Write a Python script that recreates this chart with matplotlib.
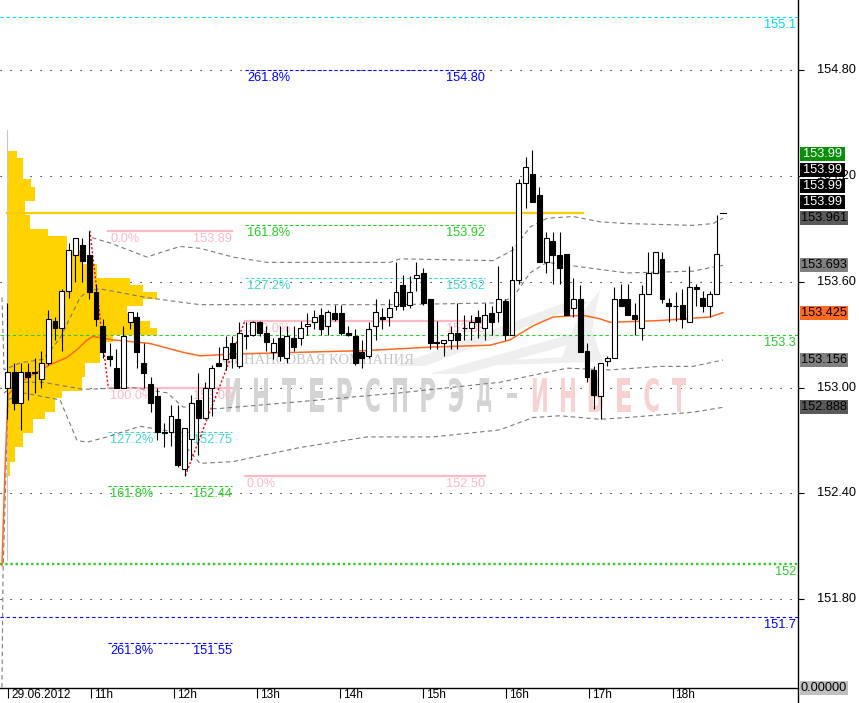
import matplotlib
matplotlib.use("Agg")
import matplotlib.pyplot as plt
import matplotlib.patches as patches
import matplotlib.transforms as mtransforms
from matplotlib.textpath import TextPath
from matplotlib.font_manager import FontProperties

plt.rcParams["font.family"] = ["Liberation Sans", "DejaVu Sans"]

W, H = 859, 703          # output size, px
AX_RIGHT, AX_BOTTOM = 798, 688
FS = 8.6

# ---------------- data (5 min candles, 29.06.2012) ----------------
opens = [153.00, 153.09, 152.91, 153.09, 153.09, 153.05, 153.14, 153.38, 153.34, 153.55,
         153.75, 153.81, 153.75, 153.54, 153.35, 153.18, 153.11, 153.00, 153.37, 153.40,
         153.14, 153.02, 152.95, 152.75, 152.75, 152.82, 152.54, 152.71, 152.93, 152.83,
         153.00, 153.14, 153.16, 153.25, 153.12, 153.30, 153.30, 153.37, 153.31, 153.20,
         153.28, 153.17, 153.28, 153.28, 153.35, 153.37, 153.41, 153.35, 153.42, 153.42,
         153.31, 153.29, 153.20, 153.18, 153.35, 153.40, 153.40, 153.46, 153.58, 153.47,
         153.62, 153.65, 153.50, 153.26, 153.25, 153.27, 153.31, 153.34, 153.34, 153.40,
         153.34, 153.42, 153.43, 153.49, 153.30, 153.61, 154.16, 154.21, 154.09, 153.71,
         153.83, 153.75, 153.76, 153.45, 153.50, 153.21, 153.10, 152.95, 153.15, 153.17,
         153.50, 153.50, 153.41, 153.34, 153.53, 153.65, 153.73, 153.48, 153.46, 153.47,
         153.37, 153.57, 153.51, 153.46, 153.53]
highs = [153.48, 153.14, 153.14, 153.14, 153.17, 153.21, 153.44, 153.40, 153.56, 153.82,
         153.85, 153.85, 153.89, 153.59, 153.39, 153.25, 153.22, 153.35, 153.43, 153.43,
         153.25, 153.06, 153.00, 152.80, 152.90, 152.90, 152.77, 152.96, 153.08, 153.03,
         153.13, 153.23, 153.29, 153.29, 153.37, 153.37, 153.38, 153.38, 153.35, 153.28,
         153.35, 153.35, 153.35, 153.38, 153.42, 153.44, 153.45, 153.44, 153.47, 153.47,
         153.35, 153.33, 153.27, 153.37, 153.50, 153.45, 153.50, 153.71, 153.64, 153.63,
         153.71, 153.68, 153.50, 153.38, 153.27, 153.35, 153.48, 153.41, 153.41, 153.44,
         153.48, 153.46, 153.69, 153.50, 153.80, 154.18, 154.31, 154.35, 154.14, 153.88,
         153.88, 153.88, 153.76, 153.62, 153.58, 153.25, 153.12, 153.14, 153.18, 153.57,
         153.59, 153.59, 153.48, 153.58, 153.77, 153.77, 153.77, 153.51, 153.54, 153.56,
         153.69, 153.59, 153.55, 153.55, 153.98]
lows = [152.82, 152.87, 152.76, 152.93, 152.97, 153.00, 153.13, 153.27, 153.21, 153.51,
        153.60, 153.60, 153.50, 153.35, 153.17, 153.12, 153.00, 153.00, 153.33, 153.11,
        153.00, 152.86, 152.70, 152.66, 152.67, 152.55, 152.50, 152.59, 152.62, 152.82,
        152.84, 153.12, 153.10, 153.11, 153.11, 153.22, 153.29, 153.29, 153.21, 153.16,
        153.15, 153.14, 153.21, 153.24, 153.30, 153.33, 153.30, 153.30, 153.38, 153.30,
        153.29, 153.13, 153.11, 153.17, 153.27, 153.33, 153.35, 153.44, 153.44, 153.45,
        153.55, 153.47, 153.22, 153.22, 153.18, 153.22, 153.22, 153.27, 153.27, 153.28,
        153.27, 153.30, 153.37, 153.27, 153.30, 153.59, 154.02, 154.05, 153.71, 153.65,
        153.59, 153.59, 153.41, 153.40, 153.20, 153.03, 152.88, 152.82, 153.12, 153.17,
        153.46, 153.41, 153.30, 153.27, 153.53, 153.65, 153.48, 153.37, 153.38, 153.34,
        153.37, 153.46, 153.43, 153.40, 153.53]
closes = [153.09, 152.91, 153.09, 153.06, 153.08, 153.14, 153.39, 153.34, 153.55, 153.78,
          153.85, 153.72, 153.54, 153.39, 153.20, 153.16, 153.00, 153.29, 153.43, 153.20,
          153.08, 152.91, 152.75, 152.74, 152.84, 152.56, 152.77, 152.91, 152.83, 153.00,
          153.11, 153.12, 153.23, 153.17, 153.31, 153.29, 153.37, 153.31, 153.26, 153.25,
          153.18, 153.29, 153.23, 153.34, 153.36, 153.40, 153.33, 153.43, 153.39, 153.31,
          153.30, 153.14, 153.17, 153.33, 153.43, 153.39, 153.45, 153.54, 153.46, 153.54,
          153.64, 153.48, 153.25, 153.25, 153.27, 153.31, 153.27, 153.34, 153.37, 153.37,
          153.41, 153.37, 153.50, 153.30, 153.61, 154.16, 154.25, 154.05, 153.71, 153.85,
          153.75, 153.68, 153.41, 153.50, 153.20, 153.06, 152.96, 153.14, 153.17, 153.50,
          153.46, 153.41, 153.39, 153.53, 153.65, 153.77, 153.50, 153.46, 153.46, 153.39,
          153.57, 153.56, 153.46, 153.53, 153.76]

time_labels = ["29.06.2012", "11h", "12h", "13h", "14h", "15h", "16h", "17h", "18h"]

# VWAP and its deviation bands (bar index, price)
vwap_x = [-0.78, -0.34, 0.10, 1.86, 6.26, 8.75, 10.37, 11.69, 12.57, 15.50, 20.92, 25.76, 28.25,
          33.09, 42.92, 52.74, 62.42, 70.78, 73.71, 77.08, 80.02, 84.42, 86.91, 88.37, 95.70,
          103.03, 104.94]
vwap_y = [151.99, 152.53, 152.96, 153.03, 153.13, 153.17, 153.22, 153.27, 153.29, 153.27, 153.25,
          153.20, 153.18, 153.19, 153.20, 153.21, 153.23, 153.24, 153.27, 153.35, 153.40, 153.41,
          153.39, 153.37, 153.38, 153.40, 153.425]
upper2_x = [12.42, 15.06, 20.48, 22.83, 25.32, 28.25, 33.09, 38.08, 56.11, 57.58, 71.22, 74.15,
            76.64, 79.14, 82.95, 86.91, 90.87, 100.54, 103.48, 104.94]
upper2_y = [153.85, 153.82, 153.74, 153.77, 153.80, 153.79, 153.74, 153.71, 153.71, 153.73,
            153.72, 153.78, 153.91, 153.96, 153.97, 153.94, 153.93, 153.92, 153.93, 153.961]
upper1_x = [-0.78, -0.48, 1.86, 5.23, 7.73, 10.66, 11.83, 13.59, 20.48, 28.25, 56.55, 71.80,
            74.15, 76.64, 79.14, 86.91, 90.87, 100.54, 103.03, 104.94]
upper1_y = [153.51, 153.10, 153.14, 153.16, 153.28, 153.51, 153.55, 153.56, 153.51, 153.47,
            153.47, 153.48, 153.51, 153.65, 153.71, 153.67, 153.65, 153.66, 153.68, 153.693]
lower1_x = [-0.48, 1.86, 5.23, 11.10, 18.43, 23.42, 25.76, 30.75, 42.92, 57.58, 64.91, 72.24,
            77.08, 82.07, 88.37, 95.70, 100.54, 104.94]
lower1_y = [152.97, 153.03, 153.03, 152.99, 153.00, 152.97, 152.89, 152.88, 152.92, 152.97,
            153.00, 153.03, 153.07, 153.11, 153.10, 153.12, 153.12, 153.156]
lower2_x = [-0.78, -0.63, 0.10, 2.30, 7.73, 10.22, 11.69, 14.62, 19.46, 24.30, 28.25, 33.09,
            42.92, 52.74, 62.42, 72.24, 77.08, 81.04, 86.91, 90.87, 100.54, 104.94]
lower2_y = [151.30, 151.94, 152.93, 152.97, 152.93, 152.70, 152.69, 152.72, 152.78, 152.75,
            152.57, 152.58, 152.66, 152.72, 152.72, 152.76, 152.83, 152.84, 152.82, 152.83,
            152.86, 152.888]

# volume profile of the previous session
profile_price = [154.32, 154.28, 154.24, 154.20, 154.16, 154.12, 154.08, 154.04, 154.00, 153.96,
                 153.92, 153.88, 153.84, 153.80, 153.76, 153.72, 153.68, 153.64, 153.60, 153.56,
                 153.52, 153.48, 153.44, 153.40, 153.36, 153.32, 153.28, 153.24, 153.20, 153.16,
                 153.12, 153.08, 153.04, 153.00, 152.96, 152.92, 152.88, 152.84, 152.80, 152.76,
                 152.72, 152.68, 152.64, 152.60, 152.56, 152.52]
profile_volume = [10, 16, 16, 16, 24, 28, 28, 18, 18, 23, 23, 41, 60, 60, 75, 75, 90, 90, 123, 136,
                  150, 136, 120, 126, 143, 150, 106, 93, 93, 93, 78, 78, 75, 75, 55, 48, 48, 38,
                  26, 26, 16, 16, 8, 8, 3, 3]

# fibonacci sets: (label, price)
fib1_names = ["0.0%", "100.0%", "127.2%", "161.8%", "261.8%"]
fib1_values = [153.89, 153.00, 152.75, 152.44, 151.55]
fib1_anchor_x = [12.1, 14.8]
fib1_anchor_y = [153.89, 153.00]
fib2_names = ["100.0%", "0.0%", "127.2%", "161.8%", "261.8%"]
fib2_values = [153.38, 152.50, 153.62, 153.92, 154.80]
fib2_anchor_x = [26.1, 34.85]
fib2_anchor_y = [152.50, 153.38]

level_prices = [155.1, 153.3, 152.0, 151.7]
level_labels = ["155.1", "153.3", "152", "151.7"]
yellow_level = 153.99

tick_prices = [154.80, 154.20, 153.60, 153.00, 152.40, 151.80]
stack_values = [153.99, 153.99, 153.99, 153.99]
marker_values = [153.961, 153.693, 153.425, 153.156, 152.888]

# ---------------- figure ----------------
fig = plt.figure(figsize=(W / 100, H / 100), dpi=100, facecolor="white")
ax = fig.add_axes([0, (H - AX_BOTTOM) / H, AX_RIGHT / W, AX_BOTTOM / H])
ax.set_xlim(-1.07, 115.94)
ax.set_ylim(151.296, 155.198)
PXX = 6.82  # px per bar
for s in ("top", "left"):
    ax.spines[s].set_visible(False)
ax.spines["bottom"].set_linewidth(1.0)
ax.spines["right"].set_visible(False)
fig.add_artist(plt.Line2D([AX_RIGHT / W] * 2, [0, 1], transform=fig.transFigure,
                          color="black", lw=1.0))

# grid
for p in tick_prices:
    ax.axhline(p, color="black", lw=0.8, ls=(0, (1, 8)), zorder=0.5)

# y ticks on the right
ax.yaxis.tick_right()
ax.set_yticks(tick_prices)
ax.tick_params(axis="y", length=4.3, width=0.8, direction="out", labelright=False, labelleft=False)
hour_ticks = [0.1 + 12.18 * k for k in range(len(time_labels))]
ax.set_xticks(hour_ticks)
ax.tick_params(axis="x", length=7, width=0.8, direction="out", labelbottom=False)
xlab_tr = mtransforms.offset_copy(
    mtransforms.blended_transform_factory(ax.transData, ax.transAxes), fig=fig, x=3, y=-7, units="dots")
for t, lab in zip(hour_ticks, time_labels):
    ax.text(t, 0, lab, transform=xlab_tr, fontsize=FS, ha="left", va="center", clip_on=False)

ident = mtransforms.IdentityTransform()
for p in tick_prices:
    ypx = ax.transData.transform((0, p))[1]
    fig.text(856, ypx, f"{p:.2f}", transform=ident, fontsize=FS + 0.6, ha="right", va="center",
             zorder=2)

# volume profile
ax.barh(profile_price, [v / PXX for v in profile_volume], height=0.04, left=0,
        color="#ffd200", edgecolor="none", zorder=1)
ax.plot([0, 0], [154.46, 152.02], color="#c8c8c8", lw=0.8, zorder=1.1)

# watermark
fp = FontProperties(family="DejaVu Sans", weight="bold")
word = "ИНТЕРСПРЭД-ИНВЕСТ"
for k, ch in enumerate(word):
    cx = 233 + 27.9 * k
    col = "#d4d4d4" if k < 11 else "#f8d2d2"
    tp = TextPath((0, 0), ch, size=100, prop=fp)
    bb = tp.get_extents()
    if ch == "-":
        hgt, wid, top = 5, 10, 393
    else:
        hgt, wid, top = 34, 14, 378
    tr = (mtransforms.Affine2D().translate(-bb.x0 - bb.width / 2, -bb.y0)
          .scale(wid / bb.width, hgt / bb.height).translate(cx, H - top - hgt))
    ax.add_patch(patches.PathPatch(tp, transform=tr, facecolor=col, edgecolor="none", zorder=1.5))
ax.text(222, H - 361, "ФИНАНСОВАЯ КОМПАНИЯ", transform=ident, fontsize=10.5,
        family=["Liberation Serif", "DejaVu Serif"], color="#c6c6c6", va="center", zorder=1.5)
for poly in ([(395, 366), (572, 300), (590, 302), (425, 366)],
             [(430, 374), (575, 333), (585, 340), (465, 374)],
             [(470, 362), (590, 356), (590, 362), (470, 366)],
             [(560, 362), (578, 318), (600, 290), (592, 330), (603, 362)]):
    ax.add_patch(patches.Polygon([(x, H - y) for x, y in poly], closed=True, transform=ident,
                                 facecolor="#efefef", edgecolor="none", zorder=1.4))

# horizontal levels
lvl_styles = [dict(color="#00dcf5", lw=0.8, ls=(0, (3, 2.5))),
              dict(color="#2ccc2c", lw=0.8, ls=(0, (3, 2.5))),
              dict(color="#2ccc2c", lw=1.7, ls=(0, (1, 1.2))),
              dict(color="#0000ff", lw=0.8, ls=(0, (3, 2.5)))]
lvl_tr = mtransforms.offset_copy(
    mtransforms.blended_transform_factory(ax.transAxes, ax.transData), fig=fig, x=-2, y=-8, units="dots")
for p, lab, st in zip(level_prices, level_labels, lvl_styles):
    ax.axhline(p, zorder=2, **st)
    ax.text(1, p, lab, transform=lvl_tr, color=st["color"], fontsize=FS + 0.6, ha="right", va="center")
ax.plot([0, 84.4], [yellow_level] * 2, color="#ffcc00", lw=1.6, zorder=2.2)
ax.plot([104.55, 105.4], [yellow_level] * 2, color="black", lw=0.8, zorder=4)

# fibonacci
FIB_COLORS = {"0.0%": "#ffb8c6", "100.0%": "#ffb8c6", "127.2%": "#40d8d0",
              "161.8%": "#22d022", "261.8%": "#0000ff"}
left_tr = mtransforms.offset_copy(ax.transData, fig=fig, x=2, y=-8, units="dots")
right_tr = mtransforms.offset_copy(ax.transData, fig=fig, x=0, y=-8, units="dots")


def draw_fib(names, values, x0, x1):
    for name, val in zip(names, values):
        col = FIB_COLORS[name]
        if name in ("0.0%", "100.0%"):
            ax.plot([x0, x1], [val, val], color=col, lw=1.6, zorder=2)
        else:
            ax.plot([x0, x1], [val, val], color=col, lw=0.8, ls=(0, (3, 2)), zorder=2)
        ax.text(x0, val, name, transform=left_tr, color=col, fontsize=FS + 0.6, ha="left",
                va="center", zorder=2)
        ax.text(x1, val, f"{val:.2f}", transform=right_tr, color=col, fontsize=FS + 0.6,
                ha="right", va="center", zorder=2)


draw_fib(fib1_names, fib1_values, fib1_anchor_x[1], 32.95)
draw_fib(fib2_names, fib2_values, fib2_anchor_x[1], 70.0)
ax.plot(fib1_anchor_x, fib1_anchor_y, color="red", lw=1.0, ls=(0, (1.5, 1.5)), zorder=3.5)
ax.plot(fib2_anchor_x, fib2_anchor_y, color="red", lw=1.0, ls=(0, (1.5, 1.5)), zorder=3.5)

# vwap + bands
for bx, by in ((upper2_x, upper2_y), (upper1_x, upper1_y), (lower1_x, lower1_y), (lower2_x, lower2_y)):
    ax.plot(bx, by, color="#7a7a7a", lw=0.8, ls=(0, (4, 3)), zorder=2.5)
ax.plot(vwap_x, vwap_y, color="#ff6a20", lw=1.1, zorder=3)

# candles
bw = 0.72
for i, (o, h, l, c) in enumerate(zip(opens, highs, lows, closes)):
    ax.plot([i, i], [l, h], color="black", lw=0.8, zorder=4, solid_capstyle="butt")
    face = "white" if c >= o else "black"
    ax.add_patch(patches.Rectangle((i - bw / 2, min(o, c)), bw, abs(c - o), facecolor=face,
                                   edgecolor="black", lw=0.8, zorder=5))

# price boxes on the right axis


def box(ypx_top, text, face, tcolor, width):
    y0 = H - ypx_top - 7
    fig.add_artist(patches.Rectangle((800, y0), width, 14, transform=ident, facecolor=face,
                                     edgecolor="none", zorder=5))
    fig.text(800 + width / 2, y0 + 7, text, transform=ident, color=tcolor, fontsize=FS + 0.6,
             ha="center", va="center", zorder=6)


def price_to_top(p):
    return H - ax.transData.transform((0, p))[1]


marker_faces = ["#5a5a5a", "#808080", "#ff6a20", "#808080", "#5a5a5a"]
for v, f in zip(marker_values, marker_faces):
    box(price_to_top(v), f"{v:.3f}", f, "black", 48)
base = price_to_top(marker_values[0])
for k, v in enumerate(stack_values):
    face = "#0a8f0a" if k == len(stack_values) - 1 else "black"
    box(base - 16 * (k + 1), f"{v:.2f}", face, "white", 45)
box(AX_BOTTOM, "0.00000", "#c0c0c0", "black", 48)

fig.savefig("out.png", dpi=100)
